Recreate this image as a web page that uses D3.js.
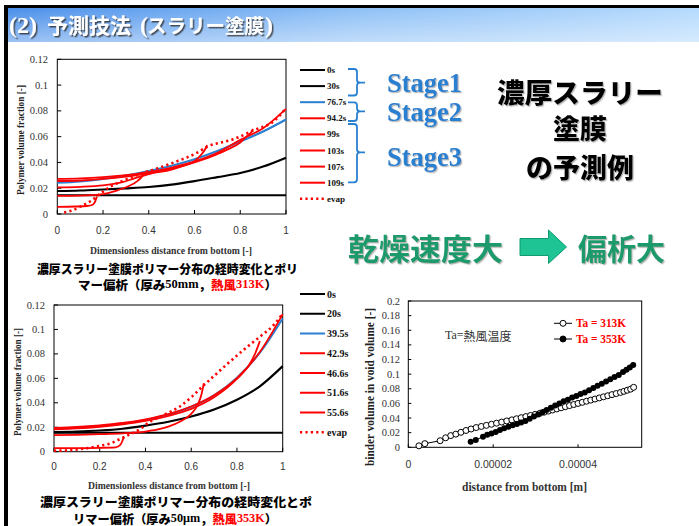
<!DOCTYPE html>
<html><head><meta charset="utf-8">
<script src="https://cdn.jsdelivr.net/npm/d3@7"></script>
<style>
html,body{margin:0;padding:0;background:#fff;}
svg{display:block;}
</style></head><body>
<svg id="slide" width="699" height="526"></svg>
<script>
// ---------- shared ticks ----------
const dimlessTicks = [0, 0.2, 0.4, 0.6, 0.8, 1];
const dimlessTickLabels = ["0", "0.2", "0.4", "0.6", "0.8", "1"];
const fractionTicks = [0, 0.02, 0.04, 0.06, 0.08, 0.1, 0.12];
const fractionTickLabels = ["0", "0.02", "0.04", "0.06", "0.08", "0.1", "0.12"];
const binderTicks = [0, 0.02, 0.04, 0.06, 0.08, 0.1, 0.12, 0.14, 0.16, 0.18, 0.2];
const binderTickLabels = ["0", "0.02", "0.04", "0.06", "0.08", "0.1", "0.12", "0.14", "0.16", "0.18", "0.2"];
const distanceTicks = [0, 0.00002, 0.00004];
const distanceTickLabels = ["0", "0.00002", "0.00004"];

// ---------- 50 mm film, hot air 313 K ----------
const times313 = ["0s", "30s", "76.7s", "94.2s", "99s", "103s", "107s", "109s", "evap"];
const colors313 = ["#000000", "#000000", "#2a7fd0", "#ff0000", "#ff0000", "#ff0000", "#ff0000", "#ff0000", "#ff0000"];
const p313_0s = [[0, 0.0145], [1, 0.0145]];
const p313_30s = [[0, 0.0178], [0.1, 0.0182], [0.2, 0.019], [0.3, 0.0199], [0.4, 0.021], [0.5, 0.0228], [0.6, 0.0255], [0.7, 0.0286], [0.8, 0.0318], [0.9, 0.0368], [1, 0.0437]];
const p313_76_7s = [[0, 0.0243], [0.1, 0.0253], [0.2, 0.0272], [0.3, 0.0298], [0.4, 0.0333], [0.5, 0.0375], [0.6, 0.0425], [0.7, 0.0488], [0.8, 0.0563], [0.9, 0.064], [1, 0.0733]];
const p313_94_2s = [[0, 0.0272], [0.1, 0.0276], [0.2, 0.0286], [0.3, 0.0302], [0.4, 0.0325], [0.5, 0.036], [0.6, 0.0408], [0.7, 0.0475], [0.8, 0.0575], [0.9, 0.0665], [1, 0.0815]];
const p313_99s = [[0, 0.0256], [0.1, 0.026], [0.2, 0.0272], [0.3, 0.029], [0.4, 0.0315], [0.5, 0.035], [0.6, 0.04], [0.7, 0.0465], [0.75, 0.0505], [0.8, 0.0555], [0.83, 0.0605], [0.848, 0.0635], [0.856, 0.066]];
const p313_103s = [[0, 0.0207], [0.1, 0.0211], [0.2, 0.0222], [0.28, 0.0245], [0.34, 0.0278], [0.4, 0.031], [0.5, 0.0345], [0.55, 0.0373], [0.6, 0.041], [0.625, 0.0452], [0.645, 0.0498], [0.655, 0.0535]];
const p313_107s = [[0, 0.014], [0.1, 0.0142], [0.15, 0.0146], [0.2, 0.0155], [0.26, 0.0182], [0.31, 0.0215], [0.35, 0.0255], [0.37, 0.029], [0.383, 0.0328]];
const p313_109s = [[0, 0.0056], [0.08, 0.0058], [0.13, 0.0062], [0.155, 0.0072], [0.165, 0.0095], [0.17, 0.0118], [0.173, 0.0135]];
const evap313 = [[0.03, 0.0012], [0.06, 0.0025], [0.11, 0.0065], [0.15, 0.0105], [0.19, 0.016], [0.23, 0.021], [0.27, 0.0245], [0.31, 0.0275], [0.36, 0.031], [0.44, 0.0355], [0.51, 0.04], [0.6, 0.0465], [0.66, 0.0525], [0.77, 0.058], [0.86, 0.065], [0.95, 0.0725], [1, 0.082]];

// ---------- 50 µm film, hot air 353 K ----------
const times353 = ["0s", "20s", "39.5s", "42.9s", "46.6s", "51.6s", "55.6s", "evap"];
const colors353 = ["#000000", "#000000", "#2a7fd0", "#ff0000", "#ff0000", "#ff0000", "#ff0000", "#ff0000"];
const p353_0s = [[0, 0.0155], [1, 0.0155]];
const p353_20s = [[0, 0.016], [0.1, 0.0164], [0.2, 0.0173], [0.3, 0.0188], [0.4, 0.0213], [0.5, 0.0245], [0.6, 0.0288], [0.7, 0.0345], [0.8, 0.0425], [0.9, 0.0535], [1, 0.07]];
const p353_39_5s = [[0, 0.019], [0.1, 0.0197], [0.2, 0.021], [0.3, 0.023], [0.4, 0.026], [0.5, 0.0305], [0.6, 0.0368], [0.7, 0.046], [0.8, 0.0605], [0.9, 0.081], [1, 0.109]];
const p353_42_9s = [[0, 0.0195], [0.1, 0.0202], [0.2, 0.0215], [0.3, 0.0235], [0.4, 0.0265], [0.5, 0.0308], [0.6, 0.037], [0.7, 0.0462], [0.8, 0.0602], [0.9, 0.0815], [1, 0.1125]];
const p353_46_6s = [[0, 0.0182], [0.1, 0.019], [0.2, 0.0204], [0.3, 0.0224], [0.4, 0.0252], [0.5, 0.0292], [0.6, 0.035], [0.7, 0.0445], [0.8, 0.0595], [0.85, 0.07], [0.88, 0.0805], [0.9, 0.0905]];
const p353_51_6s = [[0, 0.0135], [0.1, 0.0138], [0.2, 0.0143], [0.3, 0.015], [0.4, 0.0165], [0.45, 0.018], [0.5, 0.0205], [0.55, 0.0245], [0.6, 0.031], [0.63, 0.039], [0.645, 0.047], [0.655, 0.056]];
const p353_55_6s = [[0, 0.003], [0.1, 0.003], [0.2, 0.0032], [0.27, 0.0036], [0.29, 0.0055], [0.3, 0.0092], [0.306, 0.0122]];
const evap353 = [[0, 0.0008], [0.05, 0.001], [0.1, 0.0018], [0.15, 0.003], [0.2, 0.0048], [0.25, 0.007], [0.29, 0.0105], [0.33, 0.014], [0.38, 0.019], [0.42, 0.0245], [0.48, 0.03], [0.55, 0.037], [0.6, 0.0445], [0.65, 0.0535], [0.7, 0.062], [0.75, 0.0705], [0.84, 0.085], [0.9, 0.094], [0.96, 0.1035], [1, 0.113]];

// ---------- binder in void volume vs height ----------
const binderLabels = ["Ta = 313K", "Ta = 353K"];
const binder313x = [2.5e-6, 3.9e-6, 7.5e-6, 8.8e-6, 1.0e-5, 1.12e-5, 1.24e-5, 1.36e-5, 1.48e-5, 1.6e-5, 1.72e-5, 1.84e-5, 1.96e-5, 2.08e-5, 2.2e-5, 2.32e-5, 2.44e-5, 2.55e-5, 2.66e-5, 2.77e-5, 2.88e-5, 2.99e-5, 3.1e-5, 3.2e-5, 3.3e-5, 3.4e-5, 3.5e-5, 3.6e-5, 3.7e-5, 3.8e-5, 3.9e-5, 4.0e-5, 4.1e-5, 4.2e-5, 4.3e-5, 4.4e-5, 4.5e-5, 4.6e-5, 4.7e-5, 4.8e-5, 4.9e-5, 5.0e-5, 5.08e-5, 5.16e-5, 5.24e-5, 5.31e-5];
const binder313y = [0.002, 0.005, 0.009, 0.013, 0.016, 0.018, 0.0205, 0.023, 0.025, 0.027, 0.0285, 0.03, 0.0315, 0.033, 0.0345, 0.036, 0.0375, 0.039, 0.0405, 0.042, 0.0435, 0.045, 0.0465, 0.048, 0.0495, 0.051, 0.0525, 0.054, 0.0555, 0.057, 0.0585, 0.06, 0.0615, 0.063, 0.0645, 0.066, 0.0675, 0.069, 0.0705, 0.072, 0.0735, 0.075, 0.0765, 0.078, 0.0795, 0.082];
const binder353x = [1.47e-5, 1.59e-5, 1.76e-5, 1.86e-5, 1.96e-5, 2.06e-5, 2.16e-5, 2.26e-5, 2.36e-5, 2.46e-5, 2.56e-5, 2.66e-5, 2.76e-5, 2.86e-5, 2.96e-5, 3.06e-5, 3.16e-5, 3.26e-5, 3.36e-5, 3.46e-5, 3.56e-5, 3.66e-5, 3.76e-5, 3.86e-5, 3.96e-5, 4.06e-5, 4.16e-5, 4.26e-5, 4.36e-5, 4.46e-5, 4.56e-5, 4.66e-5, 4.76e-5, 4.86e-5, 4.96e-5, 5.06e-5, 5.14e-5, 5.22e-5, 5.3e-5];
const binder353y = [0.0077, 0.01, 0.0145, 0.017, 0.019, 0.021, 0.0235, 0.026, 0.028, 0.03, 0.032, 0.034, 0.036, 0.039, 0.042, 0.045, 0.048, 0.051, 0.054, 0.057, 0.06, 0.063, 0.065, 0.068, 0.07, 0.073, 0.075, 0.078, 0.081, 0.084, 0.087, 0.09, 0.093, 0.096, 0.099, 0.103, 0.106, 0.109, 0.1125];

const SERIF = "'Liberation Serif', 'Times New Roman', serif";
const SANS = "'Liberation Sans', Arial, sans-serif";
const CJK = "'Noto Sans CJK JP', sans-serif";

const svg = d3.select("#slide");
const defs = svg.append("defs");

// title bar gradients and shadows
const gH = defs.append("linearGradient").attr("id", "barH").attr("x1", 0).attr("x2", 1).attr("y1", 0).attr("y2", 0);
gH.append("stop").attr("offset", 0).attr("stop-color", "#4a8fea");
gH.append("stop").attr("offset", 0.5).attr("stop-color", "#8ec0f6");
gH.append("stop").attr("offset", 1).attr("stop-color", "#b5dafd");
const gV = defs.append("linearGradient").attr("id", "barV").attr("x1", 0).attr("x2", 0).attr("y1", 0).attr("y2", 1);
gV.append("stop").attr("offset", 0).attr("stop-color", "#ffffff").attr("stop-opacity", 0);
gV.append("stop").attr("offset", 1).attr("stop-color", "#ffffff").attr("stop-opacity", 0.45);

function shadow(id, dx, dy, blur, color, op) {
  defs.append("filter").attr("id", id).attr("x", "-10%").attr("y", "-20%").attr("width", "130%").attr("height", "150%")
    .append("feDropShadow").attr("dx", dx).attr("dy", dy).attr("stdDeviation", blur)
    .attr("flood-color", color).attr("flood-opacity", op);
}
shadow("titleShadow", 1.5, 1.5, 0.6, "#333", 0.8);
shadow("softShadow", 1.2, 1.2, 0.6, "#888", 0.6);

// slide frame
svg.append("rect").attr("x", 8).attr("y", 8).attr("width", 691).attr("height", 34).attr("fill", "url(#barH)");
svg.append("rect").attr("x", 8).attr("y", 8).attr("width", 691).attr("height", 34).attr("fill", "url(#barV)");
svg.append("rect").attr("x", 4).attr("y", 5).attr("width", 695).attr("height", 3).attr("fill", "#000");
svg.append("rect").attr("x", 4).attr("y", 5).attr("width", 4).attr("height", 521).attr("fill", "#000");

// title (one text, mixed serif / gothic runs)
const title = svg.append("text").attr("y", 33).attr("fill", "#fff").attr("font-weight", "bold")
  .attr("filter", "url(#titleShadow)");
title.append("tspan").attr("x", 9).attr("font-family", SERIF).attr("font-size", 24).text("(2)");
title.append("tspan").attr("x", 47).attr("font-family", CJK).attr("font-size", 21).text("予測技法");
title.append("tspan").attr("x", 140).attr("font-family", SERIF).attr("font-size", 24).text("(");
title.append("tspan").attr("x", 147).attr("font-family", CJK).attr("font-size", 19.5).text("スラリー塗膜");
title.append("tspan").attr("x", 265).attr("font-family", SERIF).attr("font-size", 24).text(")");

// ---------- profile charts ----------
function profileChart(o) {
  const g = svg.append("g");
  const x = d3.scaleLinear().domain([0, 1]).range([o.left, o.right]);
  const y = d3.scaleLinear().domain([0, 0.12]).range([o.bottom, o.top]);

  g.append("rect").attr("x", o.left).attr("y", o.top).attr("width", o.right - o.left).attr("height", o.bottom - o.top)
    .attr("fill", "none").attr("stroke", "#000").attr("stroke-width", 1);

  g.selectAll(".xt").data(dimlessTicks).join("line")
    .attr("x1", d => x(d)).attr("x2", d => x(d)).attr("y1", o.bottom).attr("y2", o.bottom - 4)
    .attr("stroke", "#000").attr("stroke-width", 1);
  g.selectAll(".yt").data(fractionTicks).join("line")
    .attr("x1", o.left).attr("x2", o.left + 4).attr("y1", d => y(d)).attr("y2", d => y(d))
    .attr("stroke", "#000").attr("stroke-width", 1);

  g.selectAll(".xl").data(dimlessTicks).join("text")
    .attr("x", d => x(d)).attr("y", o.xLabelY).attr("text-anchor", "middle").attr("dominant-baseline", "central")
    .attr("font-family", SANS).attr("font-size", 10).attr("fill", "#333")
    .text((d, i) => dimlessTickLabels[i]);
  g.selectAll(".yl").data(fractionTicks).join("text")
    .attr("x", o.yLabelX).attr("y", d => y(d)).attr("text-anchor", "end").attr("dominant-baseline", "central")
    .attr("font-family", SERIF).attr("font-size", 10.5).attr("fill", "#333")
    .text((d, i) => fractionTickLabels[i]);

  g.append("text").attr("x", o.xTitle[0]).attr("y", o.xTitle[1]).attr("text-anchor", "middle").attr("dominant-baseline", "central")
    .attr("font-family", SERIF).attr("font-weight", "bold").attr("font-size", 10).attr("fill", "#333")
    .attr("textLength", 162).attr("lengthAdjust", "spacingAndGlyphs")
    .text("Dimensionless distance from bottom [-]");
  g.append("text").attr("transform", `translate(${o.yTitle[0]},${o.yTitle[1]}) rotate(-90)`)
    .attr("text-anchor", "middle").attr("dominant-baseline", "central")
    .attr("font-family", SERIF).attr("font-weight", "bold").attr("font-size", 10).attr("fill", "#222")
    .attr("textLength", o.yTitleLen).attr("lengthAdjust", "spacingAndGlyphs")
    .text("Polymer volume fraction [-]");

  const line = d3.line().x(d => x(d[0])).y(d => y(d[1])).curve(d3.curveMonotoneX);
  o.series.forEach((s, i) => {
    const isEvap = o.names[i] === "evap";
    g.append("path").attr("d", line(s)).attr("fill", "none")
      .attr("stroke", o.colors[i])
      .attr("stroke-width", isEvap ? 2.6 : (o.colors[i] === "#ff0000" ? 1.8 : 2.1))
      .attr("stroke-dasharray", isEvap ? "2.2,3.2" : null);
  });

  // legend
  const ly = d3.scaleLinear().domain([0, 1]).range([o.legendTop, o.legendTop + o.legendStep]);
  const lg = g.append("g");
  o.names.forEach((n, i) => {
    const isEvap = n === "evap";
    lg.append("line").attr("x1", 300).attr("x2", 325).attr("y1", ly(i)).attr("y2", ly(i))
      .attr("stroke", o.colors[i]).attr("stroke-width", isEvap ? 2.6 : 2)
      .attr("stroke-dasharray", isEvap ? "2.2,3.2" : null);
    lg.append("text").attr("x", 327).attr("y", ly(i)).attr("dominant-baseline", "central")
      .attr("font-family", SERIF).attr("font-weight", "bold").attr("font-size", o.legendFont).attr("fill", "#111")
      .text(n);
  });
}

profileChart({
  left: 57.3, right: 286, top: 59.3, bottom: 214,
  xLabelY: 230, yLabelX: 48, xTitle: [171, 250], yTitle: [20, 140], yTitleLen: 110,
  series: [p313_0s, p313_30s, p313_76_7s, p313_94_2s, p313_99s, p313_103s, p313_107s, p313_109s, evap313],
  names: times313, colors: colors313, legendTop: 70, legendStep: 16.1, legendFont: 9
});

profileChart({
  left: 54, right: 282.7, top: 305, bottom: 451.7,
  xLabelY: 466.7, yLabelX: 45, xTitle: [169, 485], yTitle: [17, 382], yTitleLen: 108,
  series: [p353_0s, p353_20s, p353_39_5s, p353_42_9s, p353_46_6s, p353_51_6s, p353_55_6s, evap353],
  names: times353, colors: colors353, legendTop: 294, legendStep: 19.75, legendFont: 10
});

// ---------- stage braces ----------
const stageBlue = "#2a80d0";
function brace(top, tip, bottom) {
  const x0 = 348, x1 = 357, x2 = 365, r = 3;
  return `M${x0},${top} H${x1 - r} Q${x1},${top} ${x1},${top + r} V${tip - r} Q${x1},${tip} ${x1 + r},${tip} H${x2}` +
         ` M${x1 + r},${tip} Q${x1},${tip} ${x1},${tip + r} V${bottom - r} Q${x1},${bottom} ${x1 - r},${bottom} H${x0}`;
}
const braces = [[69, 82.7, 95.5], [102.3, 111.3, 121], [124, 152.3, 182.3]];
braces.forEach(b => svg.append("path").attr("d", brace(b[0], b[1], b[2])).attr("fill", "none")
  .attr("stroke", stageBlue).attr("stroke-width", 1.8));
const stages = [["Stage1", 92], ["Stage2", 121], ["Stage3", 166]];
stages.forEach(s => svg.append("text").attr("x", 387).attr("y", s[1])
  .attr("font-family", SERIF).attr("font-weight", "bold").attr("font-size", 27).attr("fill", stageBlue)
  .attr("textLength", 75).attr("lengthAdjust", "spacingAndGlyphs").attr("filter", "url(#softShadow)")
  .text(s[0]));

// big heading on the right
const big = svg.append("g").attr("font-family", CJK).attr("font-weight", 900).attr("font-size", 27)
  .attr("fill", "#000").attr("text-anchor", "middle").attr("dominant-baseline", "central").attr("filter", "url(#softShadow)");
big.append("text").attr("x", 580).attr("y", 91.5).attr("textLength", 166).attr("lengthAdjust", "spacingAndGlyphs").text("濃厚スラリー");
big.append("text").attr("x", 580).attr("y", 127).text("塗膜");
big.append("text").attr("x", 580).attr("y", 166).text("の予測例");

// drying rate -> segregation
const green = svg.append("g").attr("font-family", CJK).attr("font-weight", "bold").attr("font-size", 30)
  .attr("fill", "#1c9a6c").attr("dominant-baseline", "central").attr("filter", "url(#softShadow)");
green.append("text").attr("x", 348).attr("y", 247).attr("textLength", 155).attr("lengthAdjust", "spacingAndGlyphs").text("乾燥速度大");
green.append("text").attr("x", 578).attr("y", 247).attr("textLength", 87).attr("lengthAdjust", "spacingAndGlyphs").text("偏析大");
svg.append("path")
  .attr("d", "M520,238.5 H548.5 V230 L566.5,247 L548.5,263.5 V255.5 H520 Z")
  .attr("fill", "#1ec493").attr("stroke", "#119a6e").attr("stroke-width", 1);

// captions
function caption(xp, yp, size, len, parts) {
  const t = svg.append("text").attr("x", xp).attr("y", yp).attr("dominant-baseline", "central")
    .attr("font-size", size).attr("font-weight", "bold").attr("fill", "#000")
    .attr("textLength", len).attr("lengthAdjust", "spacingAndGlyphs");
  parts.forEach(p => t.append("tspan").attr("font-family", p[1] ? SERIF : CJK)
    .attr("font-weight", p[1] ? "bold" : 900).attr("fill", p[2] ? "#ff0000" : "#000").text(p[0]));
}
caption(37, 268, 12, 261, [["濃厚スラリー塗膜ポリマー分布の経時変化とポリ", false, false]]);
caption(78, 284, 12, 199, [["マー偏析（厚み", false, false], ["50mm", true, false], ["，", false, false], ["熱風", false, true], ["313K", true, true], ["）", false, false]]);
caption(40, 501, 12, 272, [["濃厚スラリー塗膜ポリマー分布の経時変化とポ", false, false]]);
caption(73, 517.5, 12, 204, [["リマー偏析（厚み", false, false], ["50μm", true, false], ["，", false, false], ["熱風", false, true], ["353K", true, true], ["）", false, false]]);

// ---------- binder chart ----------
(function () {
  const L = 408.3, R = 641.7, T = 301, B = 447.3;
  const g = svg.append("g");
  const x = d3.scaleLinear().domain([0, 0.000055]).range([L, R]);
  const y = d3.scaleLinear().domain([0, 0.2]).range([B, T]);
  g.append("rect").attr("x", L).attr("y", T).attr("width", R - L).attr("height", B - T)
    .attr("fill", "none").attr("stroke", "#000").attr("stroke-width", 1);
  g.selectAll(".yt").data(binderTicks).join("line")
    .attr("x1", L).attr("x2", L + 3).attr("y1", d => y(d)).attr("y2", d => y(d)).attr("stroke", "#000");
  g.selectAll(".xt").data(distanceTicks).join("line")
    .attr("x1", d => x(d)).attr("x2", d => x(d)).attr("y1", B).attr("y2", B - 3).attr("stroke", "#000");
  g.selectAll(".yl").data(binderTicks).join("text")
    .attr("x", 400).attr("y", d => y(d)).attr("text-anchor", "end").attr("dominant-baseline", "central")
    .attr("font-family", SERIF).attr("font-size", 10.5).attr("fill", "#333").text((d, i) => binderTickLabels[i]);
  g.selectAll(".xl").data(distanceTicks).join("text")
    .attr("x", d => x(d)).attr("y", 464).attr("text-anchor", "middle").attr("dominant-baseline", "central")
    .attr("font-family", SANS).attr("font-size", 10.5).attr("fill", "#333").text((d, i) => distanceTickLabels[i]);
  g.append("text").attr("x", 524.5).attr("y", 487).attr("text-anchor", "middle").attr("dominant-baseline", "central")
    .attr("font-family", SERIF).attr("font-weight", "bold").attr("font-size", 12).attr("fill", "#333")
    .attr("textLength", 125).attr("lengthAdjust", "spacingAndGlyphs").text("distance from bottom [m]");
  g.append("text").attr("transform", "translate(370,387) rotate(-90)").attr("text-anchor", "middle").attr("dominant-baseline", "central")
    .attr("font-family", SERIF).attr("font-weight", "bold").attr("font-size", 11.5).attr("fill", "#222")
    .attr("textLength", 158).attr("lengthAdjust", "spacingAndGlyphs").text("binder volume in void volume [-]");

  const line = d3.line().x(d => x(d[0])).y(d => y(d[1]));
  const s313 = d3.zip(binder313x, binder313y);
  const s353 = d3.zip(binder353x, binder353y);
  g.append("path").attr("d", line(s313)).attr("fill", "none").attr("stroke", "#000").attr("stroke-width", 1);
  g.append("path").attr("d", line(s353)).attr("fill", "none").attr("stroke", "#000").attr("stroke-width", 1);
  g.selectAll(".m313").data(s313).join("circle").attr("cx", d => x(d[0])).attr("cy", d => y(d[1])).attr("r", 3)
    .attr("fill", "#fff").attr("stroke", "#000").attr("stroke-width", 1);
  g.selectAll(".m353").data(s353).join("circle").attr("cx", d => x(d[0])).attr("cy", d => y(d[1])).attr("r", 3)
    .attr("fill", "#000");

  // legend
  const fills = ["#fff", "#000"];
  [323.3, 339].forEach((ly, i) => {
    g.append("line").attr("x1", 554).attr("x2", 572).attr("y1", ly).attr("y2", ly).attr("stroke", "#000").attr("stroke-width", 1);
    g.append("circle").attr("cx", 563).attr("cy", ly).attr("r", 3).attr("fill", fills[i]).attr("stroke", "#000").attr("stroke-width", 1);
    g.append("text").attr("x", 576).attr("y", ly).attr("dominant-baseline", "central")
      .attr("font-family", SERIF).attr("font-weight", "bold").attr("font-size", 12).attr("fill", "#ff0000")
      .attr("textLength", 50).attr("lengthAdjust", "spacingAndGlyphs").text(binderLabels[i]);
  });
  const note = g.append("text").attr("x", 445).attr("y", 335).attr("dominant-baseline", "central").attr("font-size", 12).attr("fill", "#333");
  note.append("tspan").attr("font-family", SERIF).text("Ta=");
  note.append("tspan").attr("font-family", CJK).text("熱風温度");
})();
</script>
</body></html>
